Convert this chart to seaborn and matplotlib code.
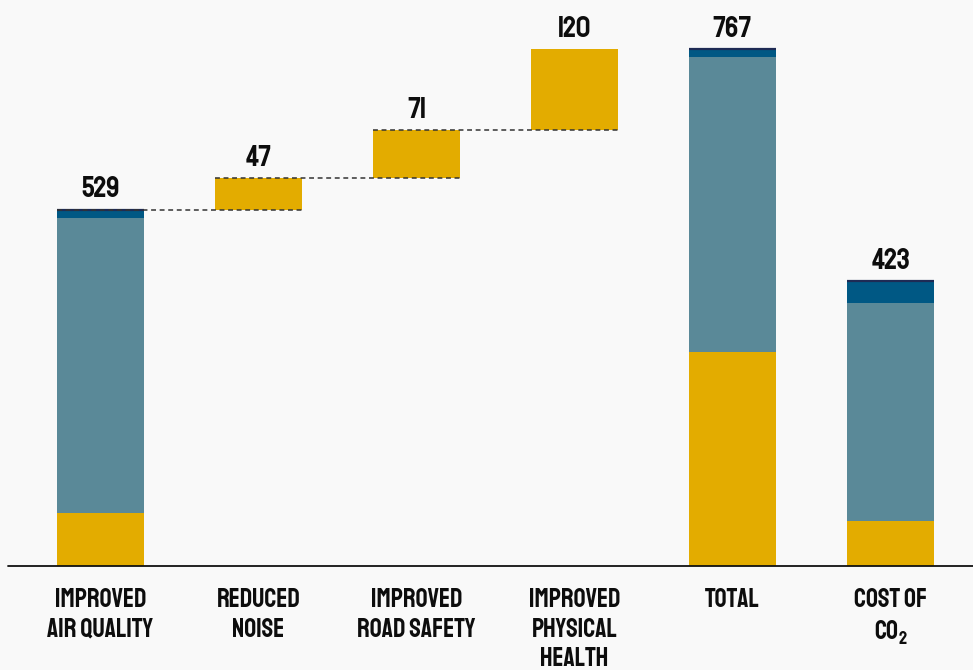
import numpy as np
import pandas as pd
import matplotlib
matplotlib.use("Agg")
import matplotlib.pyplot as plt
import seaborn as sns

# Categories (x axis)
categories = ["IMPROVED\nAIR QUALITY", "REDUCED\nNOISE", "IMPROVED\nROAD SAFETY",
              "IMPROVED\nPHYSICAL\nHEALTH", "TOTAL", r"COST OF" "\n" r"CO$_{\mathregular{2}}$"]
totals = [529, 47, 71, 120, 767, 423]

# Stacked components for the full bars (None = floating waterfall step)
yellow_part = [79, None, None, None, 317, 67]
teal_part = [438, None, None, None, 438, 324]
blue_part = [12, None, None, None, 12, 32]

BG = "#f9f9f9"
YELLOW = "#e3ac00"
TEAL = "#5a8998"
BLUE = "#005884"
NAVY = "#1e2b55"
INK = "#0d0d0d"

sns.set_theme(style="white")
plt.rcParams["font.family"] = ["Staatliches", "DejaVu Sans"]
plt.rcParams["mathtext.fontset"] = "custom"
plt.rcParams["mathtext.rm"] = "Staatliches"
plt.rcParams["mathtext.it"] = "Staatliches"
plt.rcParams["mathtext.bf"] = "Staatliches"

fig = plt.figure(figsize=(9.73, 6.70), dpi=100, facecolor=BG)
ax = fig.add_axes([0, 0, 1, 1])
ax.set_facecolor(BG)

n = len(categories)
idx = list(range(n))
width = 0.55

# Cumulative layer tops for the stacked bars
y_arr = np.array([np.nan if v is None else v for v in yellow_part], float)
t_arr = np.array([np.nan if v is None else v for v in teal_part], float)
b_arr = np.array([np.nan if v is None else v for v in blue_part], float)
layers = pd.DataFrame({
    "cat": categories,
    "blue_top": y_arr + t_arr + b_arr,
    "teal_top": y_arr + t_arr,
    "yellow_top": y_arr,
})
for col, colr in [("blue_top", BLUE), ("teal_top", TEAL), ("yellow_top", YELLOW)]:
    sns.barplot(data=layers, x="cat", y=col, order=categories, color=colr,
                width=width, saturation=1, errorbar=None, ax=ax, linewidth=0)

# Floating waterfall steps
running = totals[0]
steps = []
for i in range(1, 4):
    base = running
    ax.bar(i, totals[i], bottom=base, width=width, color=YELLOW, linewidth=0, zorder=2)
    steps.append((i - 1, base))
    running += totals[i]
# Connector lines from the top of one bar to the next step
for i, level in steps:
    ax.plot([i - width / 2, i + 1 + width / 2], [level, level], ls=(0, (3.2, 2.4)),
            color="#333333", lw=1.1, zorder=5)

# Thin navy cap on the stacked bars
for i in idx:
    if yellow_part[i] is not None:
        ax.plot([i - width / 2, i + width / 2], [totals[i], totals[i]], color=NAVY,
                lw=1.6, solid_capstyle="butt", zorder=4)

# Value labels
tops = [totals[0], totals[0] + totals[1], totals[0] + totals[1] + totals[2],
        totals[0] + totals[1] + totals[2] + totals[3], totals[4], totals[5]]
for i in idx:
    ax.text(i, tops[i] + 18, str(totals[i]), ha="center", va="baseline",
            fontsize=21, color=INK)

# Category labels below the baseline
for i in idx:
    ax.text(i, -33, categories[i], ha="center", va="top", fontsize=19,
            color=INK, linespacing=1.55)

x0 = -100.5 / 158
x1 = (973 - 100.5) / 158
ax.set_xlim(x0, x1)
ax.set_ylim(-104 / 0.6737, 566 / 0.6737)
ax.axhline(0, xmin=8 / 973, xmax=1, color="#111111", lw=1.3, zorder=6)
ax.set_axis_off()

fig.savefig("out.png", dpi=100, facecolor=BG)
